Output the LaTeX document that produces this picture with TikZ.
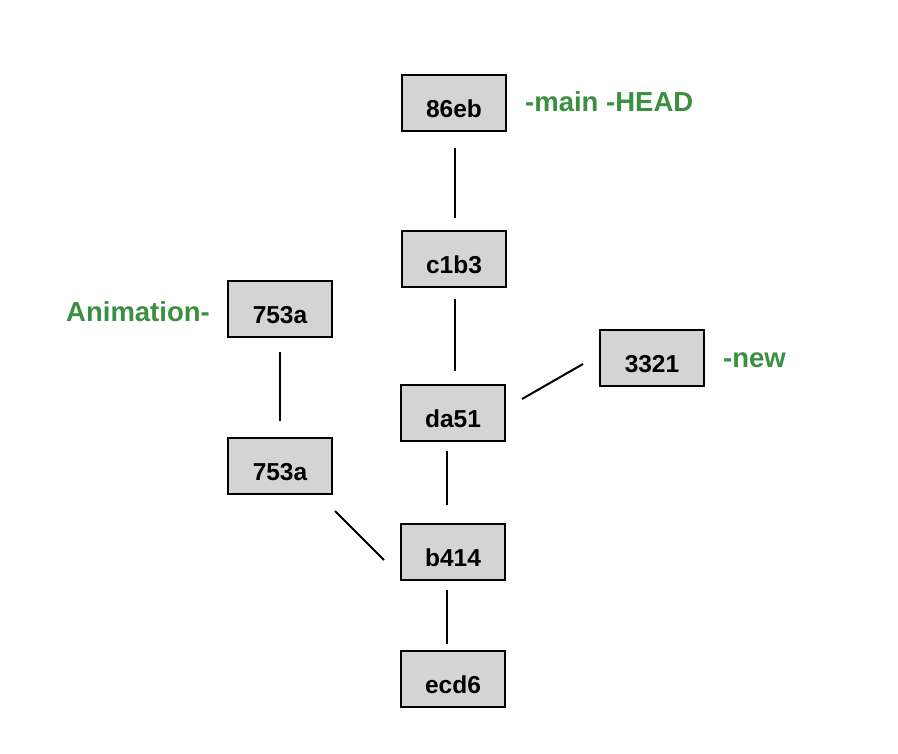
\documentclass[tikz,border=0pt]{standalone}
\usepackage{fontspec}
\setmainfont{Liberation Sans}
\usetikzlibrary{calc}
\definecolor{labelgreen}{RGB}{58,143,64}
\definecolor{boxgray}{RGB}{212,212,212}
\tikzset{
  commit/.style={draw=black, line width=2pt, fill=boxgray, minimum width=104pt, minimum height=56pt,
    inner sep=0pt, font=\fontsize{24.5}{24.5}\selectfont\bfseries, text height=29pt, text depth=0pt},
  branch/.style={text=labelgreen, font=\fontsize{27.5}{27.5}\selectfont\bfseries, inner sep=0pt},
  edge/.style={line width=2pt, black}
}
\begin{document}
\begin{tikzpicture}[x=1pt,y=-1pt]
\useasboundingbox (0,0) rectangle (898,754);
\node[commit] (n86eb) at (454,103) {86eb};
\node[commit] (c1b3) at (454,259.5) {c1b3};
\node[commit] (a753top) at (280,309) {753a};
\node[commit] (da51) at (453,413) {da51};
\node[commit] (n3321) at (652,358) {3321};
\node[commit] (a753low) at (280,466) {753a};
\node[commit] (b414) at (453,552) {b414};
\node[commit] (ecd6) at (453,679) {ecd6};

\node[branch, anchor=base west] (lmain) at ($(n86eb.east)+(18,9)$) {-main -HEAD};
\node[branch, anchor=base west] (lnew) at ($(n3321.east)+(18,10)$) {-new};
\node[branch, anchor=base east] (lanim) at ($(a753top.west)+(-17,13)$) {Animation-};

\draw[edge] ($(n86eb.south)+(1,16)$) -- ($(c1b3.north)+(1,-12)$);
\draw[edge] ($(c1b3.south)+(1,11)$) -- ($(da51.north)+(2,-13)$);
\draw[edge] ($(a753top.south)+(0,14)$) -- ($(a753low.north)+(0,-16)$);
\draw[edge] ($(da51.south)+(-6,9)$) -- ($(b414.north)+(-6,-18)$);
\draw[edge] ($(b414.south)+(-6,9)$) -- ($(ecd6.north)+(-6,-6)$);
\draw[edge] ($(a753low.south east)+(2,16)$) -- ($(b414.west)+(-16,8)$);
\draw[edge] ($(da51.east)+(16,-14)$) -- ($(n3321.west)+(-16,6)$);
\end{tikzpicture}
\end{document}
